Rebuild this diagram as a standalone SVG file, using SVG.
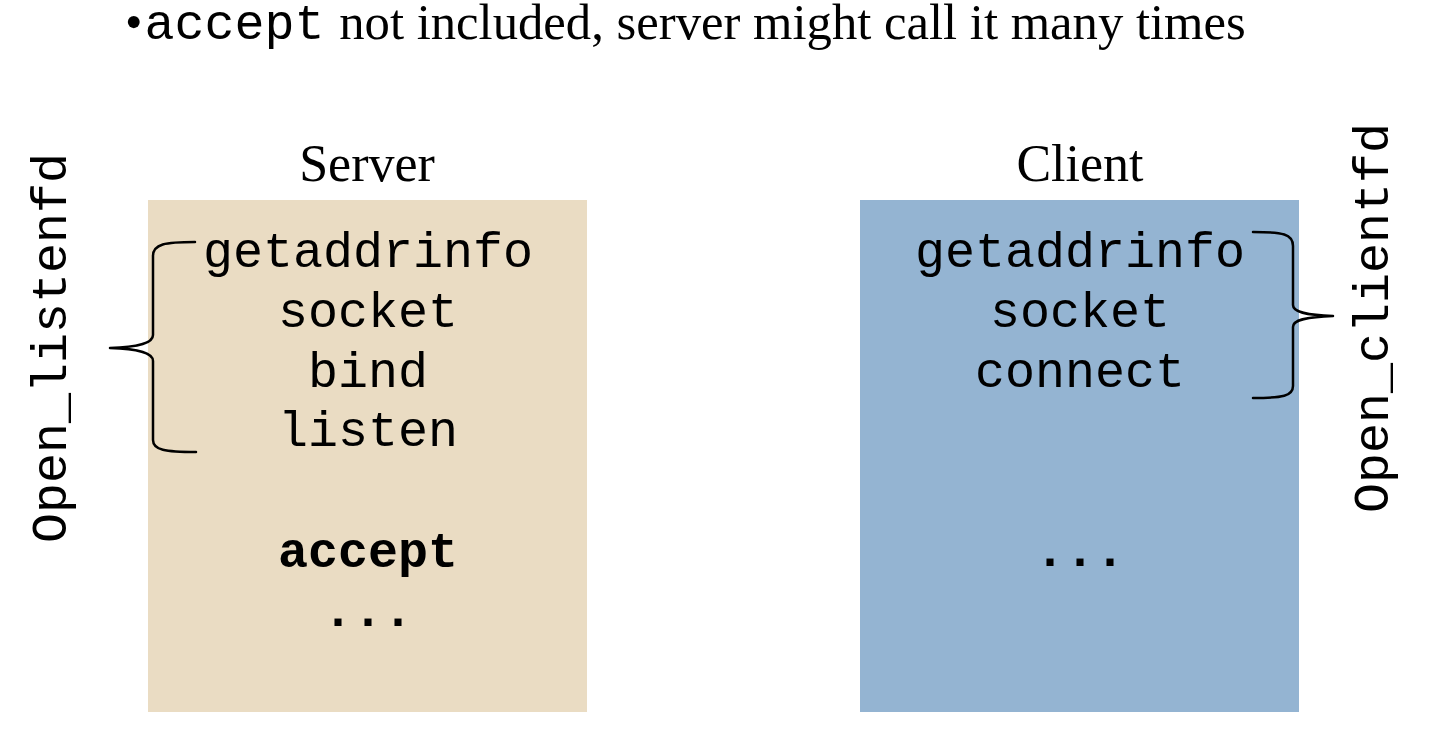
<svg xmlns="http://www.w3.org/2000/svg" width="1442" height="740" viewBox="0 0 1442 740">
<style>
.serif{font-family:"Liberation Serif","Times New Roman",serif;fill:#000}
.mono{font-family:"Liberation Mono","Courier New",monospace;fill:#000}
.code{font-family:"Liberation Mono","Courier New",monospace;font-size:50px;fill:#000;text-anchor:middle}
.hdr{font-family:"Liberation Serif","Times New Roman",serif;font-size:52px;fill:#000;text-anchor:middle}
.brace{fill:none;stroke:#000;stroke-width:2.5;stroke-linecap:round;stroke-linejoin:round}
</style>
<rect width="1442" height="740" fill="#fff"/>
<g id="title">
<text x="125" y="39" class="serif" font-size="50"><tspan>•</tspan><tspan class="mono" font-size="50" dx="2">accept</tspan><tspan font-size="50.7" dx="2"> not included, server might call it many times</tspan></text>
</g>
<g id="server">
<text x="367" y="181" class="hdr">Server</text>
<rect x="148" y="200" width="439" height="512" fill="#EADCC3"/>
<text x="368" y="267" class="code">getaddrinfo</text>
<text x="368" y="327" class="code">socket</text>
<text x="368" y="387" class="code">bind</text>
<text x="368" y="446" class="code">listen</text>
<text x="368" y="567" class="code" font-weight="bold">accept</text>
<text x="368" y="626" class="code" font-weight="bold">...</text>
</g>
<g id="client">
<text x="1080" y="181" class="hdr">Client</text>
<rect x="860" y="200" width="439" height="512" fill="#94B4D2"/>
<text x="1080" y="267" class="code">getaddrinfo</text>
<text x="1080" y="327" class="code">socket</text>
<text x="1080" y="387" class="code">connect</text>
<text x="1080" y="566" class="code" font-weight="bold">...</text>
</g>
<g id="open_listenfd">
<text class="code" transform="translate(66,348) rotate(-90)">Open_listenfd</text>
</g>
<g id="open_clientfd">
<text class="code" transform="translate(1388,318) rotate(-90)">Open_clientfd</text>
</g>
<g id="connectors">
<path class="brace" d="M195,242 C165,242 153,244 153,256 L153,335 C153,343 140,347 110,348 C140,349 153,353 153,361 L153,440 C153,450 165,452 196,452"/>
<path class="brace" d="M1253,232 C1283,232 1293,234 1293,246 L1293,305 C1293,312 1305,315 1333,316 C1305,317 1293,320 1293,327 L1293,386 C1293,396 1283,398 1253,398"/>
</g>
</svg>
